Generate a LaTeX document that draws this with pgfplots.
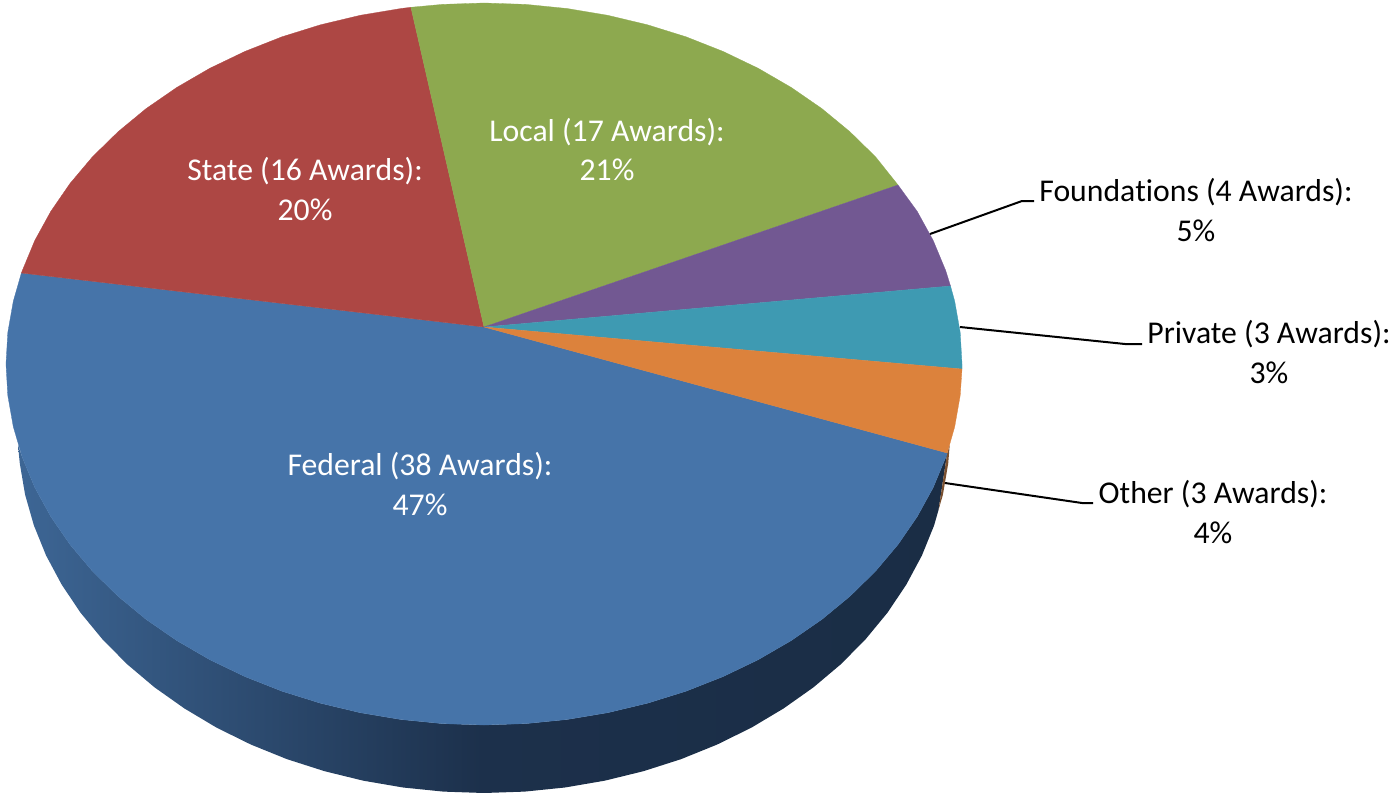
\documentclass[border=0pt]{standalone}
\usepackage{pgfplots}
\pgfplotsset{compat=1.18}
\usepackage{fontspec}
\setmainfont[Ligatures=NoCommon]{Carlito}
\definecolor{fed}{HTML}{4674A9}
\definecolor{sta}{HTML}{AD4744}
\definecolor{loc}{HTML}{8DA94F}
\definecolor{fou}{HTML}{725892}
\definecolor{pri}{HTML}{3E9AB2}
\definecolor{oth}{HTML}{DC823C}
\definecolor{sideL}{HTML}{3D6695}
\definecolor{sideM}{HTML}{1C304B}
\definecolor{sideR}{HTML}{1A2D45}
\definecolor{sliver}{HTML}{7A5030}
\newcommand{\lab}[4]{\node[text=#4,anchor=center,inner sep=0pt,font=\fontsize{31.7}{38}\selectfont] at (axis cs:#1,#2) {#3};}
\begin{document}
\begin{tikzpicture}
\path (0,0) rectangle (1394pt,792pt);
\begin{axis}[
  scale only axis, width=1394pt, height=792pt,
  xmin=0, xmax=1394, ymin=0, ymax=792, y dir=reverse,
  hide axis, clip=true]
% side wall
\addplot[draw=none, left color=sideL, right color=sideR, middle color=sideM] coordinates {
(18,445)(22.3,457.4)(34.8,487.5)(50.8,516.6)(70,544.5)(92.4,571.1)(117.9,596.1)(146,619.3)(176.7,640.5)(209.8,659.7)(245,676.6)(282,691.2)(320.5,703.2)(360.3,712.7)(401,719.5)(442.3,723.6)(484,725)(525.7,723.6)(567,719.5)(607.7,712.7)(647.5,703.2)(686,691.2)(723,676.6)(758.2,659.7)(791.3,640.5)(822,619.3)(850.1,596.1)(875.6,571.1)(898,544.5)(917.2,516.6)(933.2,487.5)(945.7,457.4)(947.2,453)
(938.5,510)(934.1,525.4)(921.9,555.5)(906.3,584.6)(887.6,612.5)(865.7,639.1)(841,664.1)(813.5,687.3)(783.5,708.5)(751.3,727.7)(717,744.6)(680.9,759.2)(643.4,771.2)(604.6,780.7)(564.9,787.5)(524.6,791.6)(484,793)(443.4,791.6)(403.1,787.5)(363.4,780.7)(324.6,771.2)(287.1,759.2)(251,744.6)(216.7,727.7)(184.5,708.5)(154.5,687.3)(127,664.1)(102.3,639.1)(80.4,612.5)(61.7,584.6)(46.1,555.5)(33.9,525.4)(25.1,494.7)(19.8,463.5)
} --cycle;
\addplot[draw=none, fill=sliver] coordinates {(949.7,445)(948.2,463.5)(942.9,494.7)(938.5,510)(947.2,453)} --cycle;
% Federal
\addplot[draw=fed, line width=0.3pt, fill=fed] coordinates {
(484,327)(21.4,273)(13.3,301.3)(7.8,332.5)(6,364)(7.8,395.5)(13.3,426.7)(22.3,457.4)(34.8,487.5)(50.8,516.6)(70,544.5)(92.4,571.1)(117.9,596.1)(146,619.3)(176.7,640.5)(209.8,659.7)(245,676.6)(282,691.2)(320.5,703.2)(360.3,712.7)(401,719.5)(442.3,723.6)(484,725)(525.7,723.6)(567,719.5)(607.7,712.7)(647.5,703.2)(686,691.2)(723,676.6)(758.2,659.7)(791.3,640.5)(822,619.3)(850.1,596.1)(875.6,571.1)(898,544.5)(917.2,516.6)(933.2,487.5)(945.7,457.4)(947.2,453)
} --cycle;
% State
\addplot[draw=sta, line width=0.3pt, fill=sta] coordinates {
(484,327)(410.9,7.3)(401,8.5)(360.3,15.3)(320.5,24.8)(282,36.8)(245,51.4)(209.8,68.3)(176.7,87.5)(146,108.7)(117.9,131.9)(92.4,156.9)(70,183.5)(50.8,211.4)(34.8,240.5)(22.3,270.6)(21.4,273)
} --cycle;
% Local
\addplot[draw=loc, line width=0.3pt, fill=loc] coordinates {
(484,327)(898,185)(875.6,156.9)(850.1,131.9)(822,108.7)(791.3,87.5)(758.2,68.3)(723,51.4)(686,36.8)(647.5,24.8)(607.7,15.3)(567,8.5)(525.7,4.4)(484,3)(442.3,4.4)(410.9,7.3)
} --cycle;
% Foundations
\addplot[draw=fou, line width=0.3pt, fill=fou] coordinates {
(484,327)(950.5,286)(945.7,270.6)(933.2,240.5)(917.2,211.4)(898,185)
} --cycle;
% Private
\addplot[draw=pri, line width=0.3pt, fill=pri] coordinates {
(484,327)(962,369)(962,364)(960.2,332.5)(954.7,301.3)(950.5,286)
} --cycle;
% Other
\addplot[draw=oth, line width=0.3pt, fill=oth] coordinates {
(484,327)(947.2,453)(954.7,426.7)(960.2,395.5)(962,369)
} --cycle;
% leader lines
\addplot[black, line width=2pt] coordinates {(930,234)(1022,201)(1034,201)};
\addplot[black, line width=2pt] coordinates {(960,327)(1125,344)(1142,344)};
\addplot[black, line width=2pt] coordinates {(945,483)(1082,503)(1093,503)};
% labels
\lab{420}{466}{Federal (38 Awards):}{white}
\lab{420}{505}{47\%}{white}
\lab{305}{171}{State (16 Awards):}{white}
\lab{305}{210}{20\%}{white}
\lab{607}{132}{Local (17 Awards):}{white}
\lab{607}{170}{21\%}{white}
\lab{1196}{192}{Founda\kern0pt tions (4 Awards):}{black}
\lab{1196}{231}{5\%}{black}
\lab{1269}{334}{Private (3 Awards):}{black}
\lab{1269}{373}{3\%}{black}
\lab{1213}{494}{Other (3 Awards):}{black}
\lab{1213}{533}{4\%}{black}
\end{axis}
\end{tikzpicture}
\end{document}
